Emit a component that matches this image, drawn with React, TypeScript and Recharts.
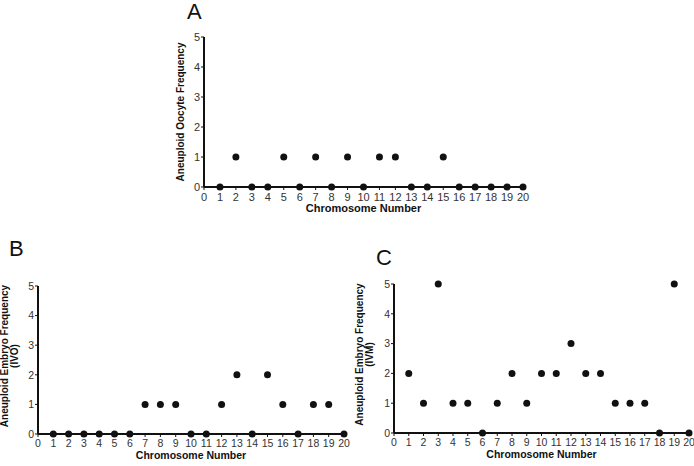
import { ScatterChart, Scatter, XAxis, YAxis, Label } from "recharts";

const chromosomes = [1, 2, 3, 4, 5, 6, 7, 8, 9, 10, 11, 12, 13, 14, 15, 16, 17, 18, 19, 20];
const oocyte = [0, 1, 0, 0, 1, 0, 1, 0, 1, 0, 1, 1, 0, 0, 1, 0, 0, 0, 0, 0];
const embryoIVO = [0, 0, 0, 0, 0, 0, 1, 1, 1, 0, 0, 1, 2, 0, 2, 1, 0, 1, 1, 0];
const embryoIVM = [2, 1, 5, 1, 1, 0, 1, 2, 1, 2, 2, 3, 2, 2, 1, 1, 1, 0, 5, 0];
const xTicks = [0, 1, 2, 3, 4, 5, 6, 7, 8, 9, 10, 11, 12, 13, 14, 15, 16, 17, 18, 19, 20];
const yTicks = [0, 1, 2, 3, 4, 5];

const FONT = "'Liberation Sans', Arial, sans-serif";

const toRows = (vals: number[]) => chromosomes.map((c, i) => ({ x: c, y: vals[i] }));

const Dot = (p: any) => <circle cx={p.cx} cy={p.cy} r={3.5} fill="#111" />;

type PanelProps = {
  letter: string;
  letterX: number;
  letterY: number;
  vals: number[];
  yLines: string[];
  plot: [number, number, number, number]; // x0, y0, x1, y1
  fs: number;
  yLabelGap: number;
  yLabelShift: number;
};

function Panel({ letter, letterX, letterY, vals, yLines, plot, fs, yLabelGap, yLabelShift }: PanelProps) {
  const [x0, y0, x1, y1] = plot;
  const left = x0 - 60;
  const top = y0 - 10;
  const width = Math.min(x1 - x0 + 70, 694 - left);
  // top margin 10 + x axis 20 + bottom margin 20
  const height = y1 - y0 + 50;
  const right = width - 60 - (x1 - x0);
  return (
    <>
      <div
        style={{
          position: "absolute",
          left: letterX,
          top: letterY,
          fontFamily: FONT,
          fontSize: 22,
          lineHeight: "22px",
          color: "#111",
        }}
      >
        {letter}
      </div>
      <div style={{ position: "absolute", left, top }}>
        <ScatterChart
          width={width}
          height={height}
          margin={{ top: 10, right, bottom: 20, left: 40 }}
        >
          <XAxis
            type="number"
            dataKey="x"
            domain={[0, 20]}
            ticks={xTicks}
            interval={0}
            height={20}
            axisLine={{ stroke: "#111", strokeWidth: 2 }}
            tickLine={{ stroke: "#111" }}
            tickSize={3}
            tickMargin={3}
            tick={{ fill: "#333", fontSize: fs, fontFamily: FONT }}
          >
            <Label
              content={(props: any) => {
                const vb = props.viewBox || {};
                return (
                  <text
                    x={vb.x + vb.width / 2}
                    y={vb.y + 25}
                    textAnchor="middle"
                    fontFamily={FONT}
                    fontWeight="bold"
                    fontSize={fs}
                    fill="#111"
                  >
                    Chromosome Number
                  </text>
                );
              }}
            />
          </XAxis>
          <YAxis
            type="number"
            dataKey="y"
            domain={[0, 5]}
            ticks={yTicks}
            interval={0}
            width={20}
            axisLine={{ stroke: "#111", strokeWidth: 2 }}
            tickLine={{ stroke: "#111" }}
            tickSize={3}
            tickMargin={1}
            tick={{ fill: "#333", fontSize: fs, fontFamily: FONT }}
          >
            <Label
              content={(props: any) => {
                const vb = props.viewBox || {};
                const cy = vb.y + vb.height / 2 + yLabelShift;
                const cx = vb.x + vb.width - yLabelGap;
                return (
                  <text
                    transform={`translate(${cx}, ${cy}) rotate(-90)`}
                    textAnchor="middle"
                    fontFamily={FONT}
                    fontWeight="bold"
                    fontSize={10}
                    fill="#111"
                  >
                    {yLines.map((l, i) => (
                      <tspan key={i} x={0} dy={i === 0 ? -(yLines.length - 1) * 10.5 : 10.5}>
                        {l}
                      </tspan>
                    ))}
                  </text>
                );
              }}
            />
          </YAxis>
          <Scatter data={toRows(vals)} shape={Dot} isAnimationActive={false} />
        </ScatterChart>
      </div>
    </>
  );
}

export default function App() {
  return (
    <div
      style={{
        position: "absolute",
        left: 0,
        top: 0,
        width: 694,
        height: 466,
        background: "#fff",
        overflow: "hidden",
      }}
    >
      <Panel
        letter="A"
        letterX={187}
        letterY={1}
        vals={oocyte}
        yLines={["Aneuploid Oocyte Frequency"]}
        plot={[204, 37, 523, 187]}
        fs={11}
        yLabelGap={20}
        yLabelShift={0}
      />
      <Panel
        letter="B"
        letterX={9}
        letterY={238}
        vals={embryoIVO}
        yLines={["Aneuploid Embryo Frequency", "(IVO)"]}
        plot={[38, 286, 344, 434]}
        fs={10.5}
        yLabelGap={20}
        yLabelShift={-4}
      />
      <Panel
        letter="C"
        letterX={376}
        letterY={247}
        vals={embryoIVM}
        yLines={["Aneuploid Embryo Frequency", "(IVM)"]}
        plot={[394, 284, 689, 433]}
        fs={10.5}
        yLabelGap={21}
        yLabelShift={-4}
      />
    </div>
  );
}
